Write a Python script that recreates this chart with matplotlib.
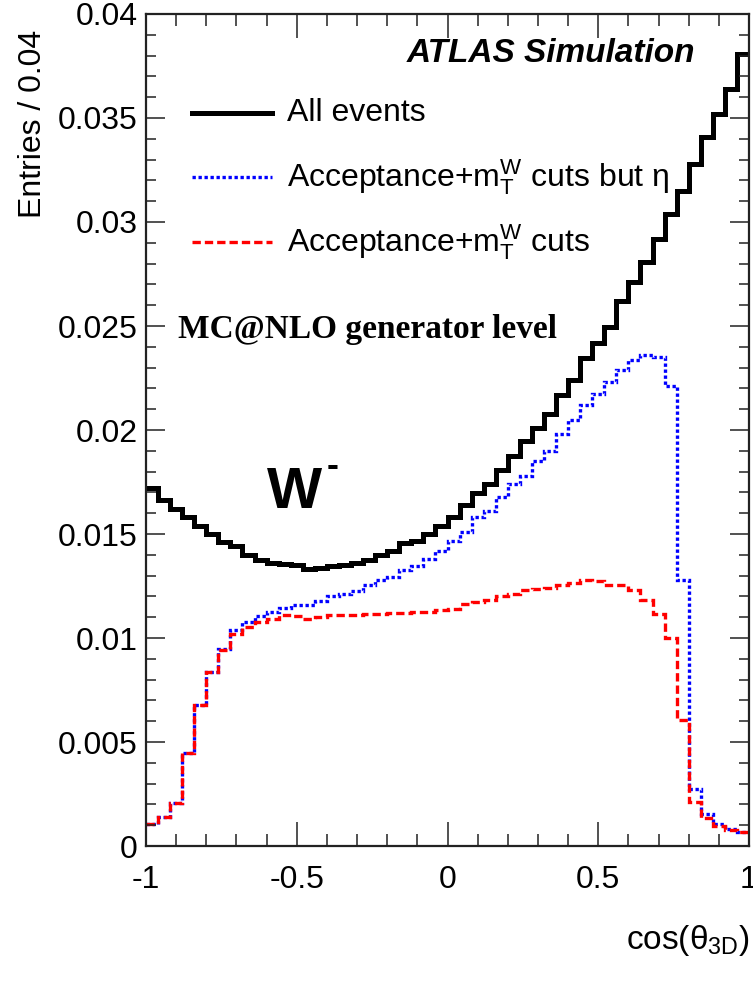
import numpy as np
import matplotlib
matplotlib.use('Agg')
import matplotlib.pyplot as plt
from matplotlib.ticker import MultipleLocator, FuncFormatter

plt.rcParams['font.family'] = ['Liberation Sans', 'DejaVu Sans']
plt.rcParams['mathtext.fontset'] = 'custom'
plt.rcParams['mathtext.rm'] = 'Liberation Sans'
plt.rcParams['mathtext.it'] = 'Liberation Sans'
plt.rcParams['mathtext.bf'] = 'Liberation Sans:bold'

# 50 bins of width 0.04 in cos(theta_3D), values in units of 1e-3
edges = np.linspace(-1, 1, 51)

all_events = [17.2, 16.65, 16.2, 15.8, 15.4, 15.0, 14.6, 14.4, 13.97, 13.73,
              13.6, 13.57, 13.5, 13.3, 13.38, 13.46, 13.5, 13.6, 13.77, 13.97,
              14.17, 14.57, 14.66, 15.0, 15.4, 15.8, 16.4, 16.97, 17.4, 18.06,
              18.73, 19.47, 20.1, 20.75, 21.7, 22.4, 23.45, 24.2, 24.95, 26.2,
              27.1, 28.1, 29.2, 30.4, 31.5, 32.8, 34.1, 35.2, 36.4, 38.1]

acc_but_eta = [1.07, 1.4, 2.08, 4.47, 6.8, 8.37, 9.49, 10.37, 10.77, 11.04,
               11.25, 11.46, 11.57, 11.6, 11.76, 12.0, 12.1, 12.26, 12.53, 12.77,
               12.93, 13.28, 13.45, 13.8, 14.2, 14.65, 15.1, 15.8, 16.1, 16.8,
               17.4, 17.8, 18.5, 19.0, 19.8, 20.5, 21.2, 21.75, 22.3, 22.9,
               23.35, 23.6, 23.5, 22.1, 12.8, 2.76, 1.55, 1.04, 0.83, 0.67]

acc_cuts = [1.07, 1.4, 2.08, 4.47, 6.8, 8.37, 9.4, 10.2, 10.53, 10.77,
            10.93, 11.09, 11.06, 10.93, 11.0, 11.09, 11.09, 11.09, 11.14, 11.17,
            11.2, 11.2, 11.25, 11.25, 11.36, 11.4, 11.65, 11.73, 11.84, 12.0,
            12.1, 12.3, 12.37, 12.42, 12.56, 12.64, 12.77, 12.74, 12.53, 12.53,
            12.3, 11.84, 11.14, 10.0, 6.04, 2.1, 1.36, 0.95, 0.75, 0.67]

labels = ['All events',
          r'Acceptance+m$_{\mathrm{T}}^{\mathrm{W}}$ cuts but η',
          r'Acceptance+m$_{\mathrm{T}}^{\mathrm{W}}$ cuts']
colors = ['black', 'blue', 'red']
styles = ['-', (0, (1, 0.8)), (0, (2.5, 1.2))]
widths = [3.6, 2.4, 2.4]

fig = plt.figure(figsize=(7.53, 9.84), dpi=100)
ax = fig.add_axes([146/753, 1-846/984, 603/753, 832/984])

series = [all_events, acc_but_eta, acc_cuts]
for vals, c, ls, lw in zip(series, colors, styles, widths):
    ax.stairs(np.array(vals) * 1e-3, edges, baseline=None, color=c,
              linestyle=ls, linewidth=lw)

ax.set_xlim(-1, 1)
ax.set_ylim(0, 0.04)
ax.xaxis.set_major_locator(MultipleLocator(0.5))
ax.xaxis.set_minor_locator(MultipleLocator(0.1))
ax.yaxis.set_major_locator(MultipleLocator(0.005))
ax.yaxis.set_minor_locator(MultipleLocator(0.001))
fmt = FuncFormatter(lambda v, p: '%g' % round(v, 6))
ax.xaxis.set_major_formatter(fmt)
ax.yaxis.set_major_formatter(fmt)
ax.tick_params(axis='both', which='both', direction='in', top=True, right=True,
               labelsize=23, width=1.1, colors='#222222', labelcolor='black')
ax.tick_params(axis='x', which='major', length=17, pad=14)
ax.tick_params(axis='x', which='minor', length=8.5)
ax.tick_params(axis='y', which='major', length=13.5, pad=6)
ax.tick_params(axis='y', which='minor', length=7)
for s in ax.spines.values():
    s.set_linewidth(1.6)
    s.set_color('#222222')

# legend drawn by hand, ROOT style
rows_y = [0.881, 0.804, 0.726]
for y, lab, c, ls, lw in zip(rows_y, labels, colors, styles, widths):
    ax.plot([0.0763, 0.209], [y, y], transform=ax.transAxes, color=c,
            linestyle=ls, linewidth=lw)
    ax.text(0.2338, y, lab, transform=ax.transAxes, fontsize=23,
            va='center', ha='left')

ax.text(0.9104, 0.952, 'ATLAS Simulation', transform=ax.transAxes,
        fontsize=24, fontweight='bold', fontstyle='italic', ha='right', va='center')
ax.text(0.053, 0.621, 'MC@NLO generator level', transform=ax.transAxes,
        fontsize=24, fontweight='bold', family='Liberation Serif', ha='left', va='center')
ax.text(0.200, 0.406, 'W', transform=ax.transAxes,
        fontsize=42, fontweight='bold', ha='left', va='baseline')
ax.text(0.300, 0.445, '-', transform=ax.transAxes,
        fontsize=26, fontweight='bold', ha='left', va='baseline')

fig.text(33/753, 1-30/984, 'Entries / 0.04', rotation=90, fontsize=23,
         ha='center', va='top')
fig.text(750/753, 1-940/984, r'cos(θ$_{\mathrm{3D}}$)', fontsize=24,
         ha='right', va='center')

fig.savefig('out.png', dpi=100)
